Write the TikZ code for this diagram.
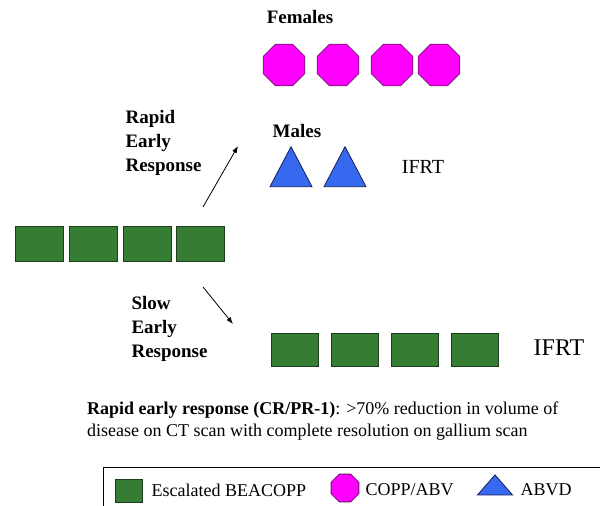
\documentclass[tikz,border=0pt]{standalone}
\usepackage{fontspec}
\setmainfont{Liberation Serif}[BoldFont={Liberation Serif Bold}]
\usepackage{tikz}
\usetikzlibrary{shapes.geometric,arrows.meta}

\definecolor{beagreen}{RGB}{53,125,50}
\definecolor{beaedge}{RGB}{30,60,30}
\definecolor{coppmag}{RGB}{255,0,255}
\definecolor{coppedge}{RGB}{110,20,110}
\definecolor{abvdblue}{RGB}{55,105,240}
\definecolor{abvdedge}{RGB}{20,30,90}

\tikzset{
  beacopp/.style={draw=beaedge, fill=beagreen, line width=0.8pt, minimum width=48pt, minimum height=35pt, inner sep=0pt},
  copp/.style={regular polygon, regular polygon sides=8, draw=coppedge, fill=coppmag, line width=0.8pt, minimum size=45pt, inner sep=0pt},
  abvd/.style={isosceles triangle, isosceles triangle stretches, shape border rotate=90, draw=abvdedge, fill=abvdblue, line width=0.8pt, minimum width=42pt, minimum height=40pt, inner sep=0pt},
  lbl/.style={font=\fontsize{19}{24}\selectfont\bfseries, align=left},
  ifrt/.style={font=\fontsize{20}{24}\selectfont},
  legtxt/.style={font=\fontsize{18}{22}\selectfont, anchor=west},
  resp/.style={-{Latex[length=7pt,width=5pt]}, line width=0.8pt}
}

\begin{document}
\begin{tikzpicture}[x=1pt, y=-1pt]
            \clip (0,0) rectangle (600,506);
            % females
            \node[lbl] (fem) at (300,17) {Females};
            \node[copp] (f1) at (284,65) {};
            \node[copp] (f2) at (338,65) {};
            \node[copp] (f3) at (392,65) {};
            \node[copp] (f4) at (439,65) {};
            % males
            \node[lbl] (mal) at (297,131) {Males};
            \node[abvd] (m1) at (291,174) {};
            \node[abvd] (m2) at (345,174) {};
            \node[ifrt] (ifrt1) at (423,167) {IFRT};
            \node[lbl, anchor=west] (rer) at (122,143) {Rapid\\Early\\Response};
            % start
            \node[beacopp] (s1) at (39,244) {};
            \node[beacopp] (s2) at (93,244) {};
            \node[beacopp] (s3) at (147,244) {};
            \node[beacopp] (s4) at (200,244) {};
            \coordinate (up0) at (203,207);
            \coordinate (up1) at (238,146);
            \draw[resp] (up0) -- (up1);
            \coordinate (dn0) at (203,287);
            \coordinate (dn1) at (233,324);
            \draw[resp] (dn0) -- (dn1);
            % slow
            \node[lbl, anchor=west] (ser) at (128,329) {Slow\\Early\\Response};
            \node[beacopp, minimum width=47pt, minimum height=33pt] (e1) at (295,350) {};
            \node[beacopp, minimum width=47pt, minimum height=33pt] (e2) at (355,350) {};
            \node[beacopp, minimum width=47pt, minimum height=33pt] (e3) at (415,350) {};
            \node[beacopp, minimum width=47pt, minimum height=33pt] (e4) at (475,350) {};
            \node[ifrt, font=\fontsize{24}{28}\selectfont] (ifrt2) at (559,348) {IFRT};
            % definition
            \node[anchor=west, inner sep=0pt, align=left, font=\fontsize{18}{22}\selectfont] (def) at (87,421)
              {\textbf{Rapid early response (CR/PR-1)}: >70\% reduction in volume of\\disease on CT scan with complete resolution on gallium scan};
            % legend
            \draw[line width=0.8pt] (103,467) rectangle (640,540);
            \node[beacopp, minimum width=27pt, minimum height=23pt] (k1) at (129,491) {};
            \node[legtxt] (k1t) at (148,490) {Escalated BEACOPP};
            \node[copp, minimum size=30pt] (k2) at (345,488) {};
            \node[legtxt] (k2t) at (362,490) {COPP/ABV};
            \node[abvd, minimum width=35pt, minimum height=20pt] (k3) at (495,487) {};
            \node[legtxt] (k3t) at (517,490) {ABVD};
        \end{tikzpicture}
\end{document}
